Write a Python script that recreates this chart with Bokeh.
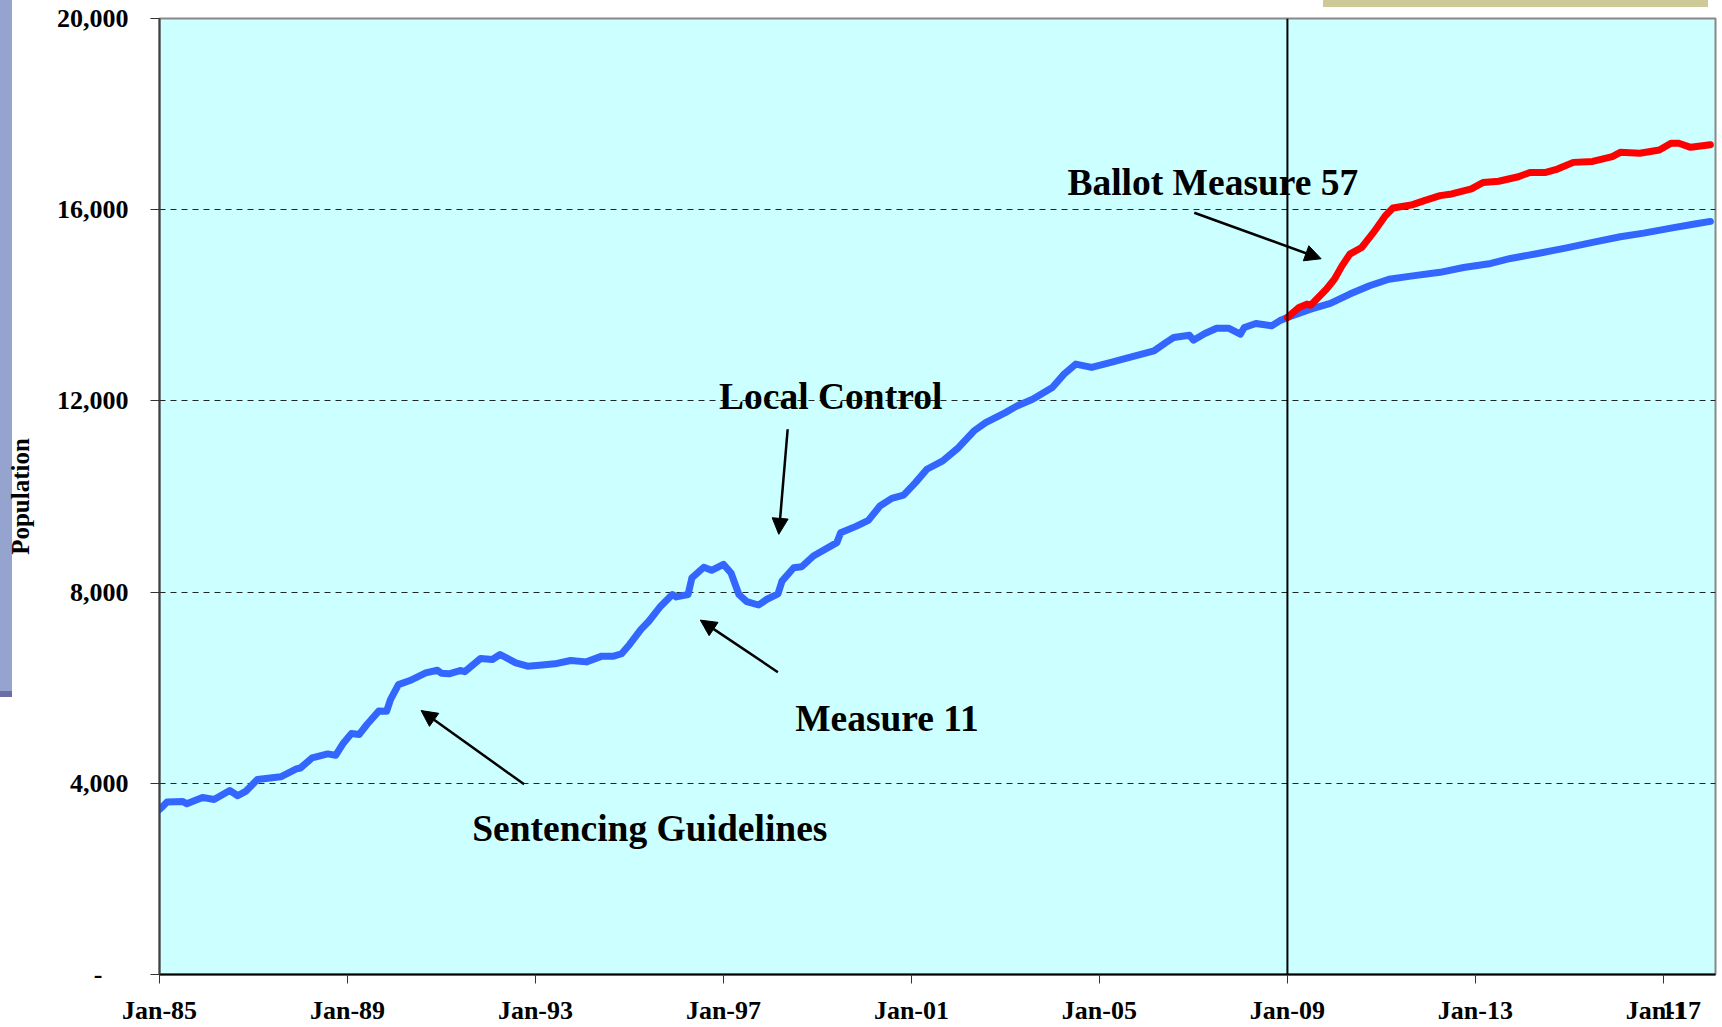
import pandas as pd
from bokeh.plotting import figure
from bokeh.models import (Range1d, FixedTicker, NumeralTickFormatter, DatetimeTickFormatter,
                          Span, Arrow, NormalHead, Label, ColumnDataSource, DatetimeAxis)
from bokeh.embed import file_html
from bokeh.resources import INLINE

# ---------------- data ----------------
base_months = [
    "1985-01", "1985-03", "1985-07", "1985-08", "1985-12", "1986-03", "1986-07", "1986-09",
    "1986-11", "1987-02", "1987-08", "1987-12", "1988-01", "1988-04", "1988-08", "1988-10",
    "1988-12", "1989-02", "1989-04", "1989-06", "1989-09", "1989-11", "1989-12", "1990-02",
    "1990-05", "1990-09", "1990-12", "1991-01", "1991-03", "1991-06", "1991-07", "1991-11",
    "1992-02", "1992-04", "1992-08", "1992-11", "1993-02", "1993-06", "1993-10", "1994-02",
    "1994-06", "1994-09", "1994-11", "1995-01", "1995-04", "1995-06", "1995-09", "1995-12",
    "1996-01", "1996-04", "1996-05", "1996-08", "1996-10", "1997-01", "1997-03", "1997-05",
    "1997-07", "1997-10", "1997-12", "1998-03", "1998-04", "1998-07", "1998-09", "1998-12",
    "1999-06", "1999-07", "1999-11", "2000-02", "2000-05", "2000-08", "2000-11", "2001-02",
    "2001-05", "2001-09", "2002-01", "2002-05", "2002-08", "2003-01", "2003-04", "2003-08",
    "2004-01", "2004-04", "2004-07", "2004-11", "2005-04", "2005-08", "2006-03", "2006-06",
    "2006-08", "2006-12", "2007-01", "2007-04", "2007-07", "2007-10", "2008-01", "2008-02",
    "2008-05", "2008-09", "2008-11", "2009-01", "2009-07", "2009-12", "2010-05", "2010-10",
    "2011-03", "2011-09", "2012-04", "2012-10", "2013-05", "2013-10", "2014-05", "2014-12",
    "2015-07", "2016-02", "2016-08", "2017-03", "2017-09", "2018-01",
]
base_population = [
    3450, 3610, 3620, 3570, 3705, 3660, 3850, 3740,
    3830, 4080, 4135, 4300, 4320, 4530, 4615, 4585,
    4845, 5040, 5020, 5230, 5510, 5505, 5750, 6065,
    6150, 6310, 6365, 6300, 6290, 6360, 6335, 6610,
    6590, 6695, 6520, 6450, 6470, 6500, 6570, 6540,
    6660, 6660, 6710, 6900, 7220, 7390, 7705, 7950,
    7900, 7950, 8300, 8520, 8455, 8580, 8400, 7950,
    7800, 7730, 7845, 7965, 8230, 8510, 8530, 8755,
    9035, 9240, 9380, 9500, 9800, 9960, 10030, 10290,
    10570, 10745, 11020, 11370, 11545, 11755, 11895, 12035,
    12280, 12560, 12770, 12700, 12805, 12895, 13045, 13220,
    13325, 13375, 13270, 13410, 13520, 13520, 13395, 13535,
    13620, 13570, 13675, 13745, 13920, 14040, 14235, 14410,
    14545, 14615, 14690, 14790, 14875, 14980, 15085, 15195,
    15315, 15435, 15510, 15615, 15700, 15755,
]

m57_months = [
    "2009-01", "2009-04", "2009-06", "2009-07", "2009-11", "2010-01", "2010-03", "2010-05",
    "2010-08", "2010-11", "2011-02", "2011-04", "2011-09", "2011-12", "2012-04", "2012-07",
    "2012-12", "2013-03", "2013-07", "2013-12", "2014-03", "2014-07", "2014-10", "2015-02",
    "2015-07", "2015-12", "2016-02", "2016-07", "2016-12", "2017-03", "2017-05", "2017-08",
    "2018-01",
]
m57_population = [
    13745, 13955, 14025, 14000, 14340, 14545, 14825, 15070,
    15210, 15525, 15875, 16035, 16105, 16190, 16295, 16330,
    16435, 16570, 16595, 16690, 16780, 16780, 16850, 16990,
    17010, 17110, 17200, 17180, 17250, 17390, 17390, 17305,
    17360,
]

y_ticks = [0, 4000, 8000, 12000, 16000, 20000]
x_tick_years = [1985, 1989, 1993, 1997, 2001, 2005, 2009, 2013, 2017]
page_number = "11"
page_number_date = "2017-03-26"

# annotation texts and arrows (date, value)
notes = [
    ("Ballot Measure 57", "2004-04-27", 16565),
    ("Local Control", "1996-11-28", 12082),
    ("Measure 11", "1998-07-12", 5360),
    ("Sentencing Guidelines", "1991-08-28", 3060),
]
arrows = [
    ("2007-01-08", 15937, "2009-09-20", 14974),
    ("1998-05-15", 11407, "1998-03-07", 9208),
    ("1998-02-28", 6325, "1996-07-05", 7414),
    ("1992-10-05", 3979, "1990-07-27", 5522),
]

# ---------------- chart ----------------
def ms(s):
    return int(pd.Timestamp(s).value // 10**6)

FONT = "Liberation Serif"

p = figure(width=1722, height=1027, x_axis_type="datetime", x_axis_location=None,
           x_range=Range1d(ms("1985-01-01"), ms("2018-02-10")),
           y_range=Range1d(0, 20000),
           output_backend="svg", toolbar_location=None,
           background_fill_color="#CCFFFF", border_fill_color=None,
           min_border_left=159, min_border_top=18, min_border_right=7, min_border_bottom=53)

# slide decorations behind the figure (left bar, top-right bar)
p.styles = {
    "background-color": "white",
    "background-image": ("linear-gradient(#95A3CF,#95A3CF), linear-gradient(#6B6FA3,#6B6FA3), "
                         "linear-gradient(#CDCA98,#CDCA98)"),
    "background-size": "12px 691px, 12px 6px, 385px 7px",
    "background-position": "0px 0px, 0px 691px, 1323px 0px",
    "background-repeat": "no-repeat",
}

p.outline_line_color = "#888888"
p.outline_line_width = 2

base_src = ColumnDataSource(dict(x=pd.to_datetime(base_months, format="%Y-%m"), y=base_population))
m57_src = ColumnDataSource(dict(x=pd.to_datetime(m57_months, format="%Y-%m"), y=m57_population))

p.line("x", "y", source=base_src, line_color="#3366FF", line_width=7, line_join="round", line_cap="round")
p.line("x", "y", source=m57_src, line_color="#FF0000", line_width=7, line_join="round", line_cap="round")

p.add_layout(Span(location=ms("2009-01-01"), dimension="height", line_color="black", line_width=2))

# y axis
p.yaxis.ticker = FixedTicker(ticks=y_ticks)
p.yaxis.formatter = NumeralTickFormatter(format="0,0")
p.yaxis.major_label_overrides = {0: "-\u00a0\u00a0\u00a0\u00a0"}
p.yaxis.axis_label = "Population"
p.yaxis.axis_label_text_font = FONT
p.yaxis.axis_label_text_font_style = "bold"
p.yaxis.axis_label_text_font_size = "25px"
p.yaxis.axis_label_text_color = "black"
p.yaxis.axis_label_standoff = 20
p.yaxis.major_label_standoff = 22
p.yaxis.axis_line_color = "#404040"
p.yaxis.axis_line_width = 2
p.yaxis.major_label_text_font = FONT
p.yaxis.major_label_text_font_style = "bold"
p.yaxis.major_label_text_font_size = "26px"
p.yaxis.major_label_text_color = "black"
p.yaxis.major_tick_in = 0
p.yaxis.major_tick_out = 9
p.yaxis.major_tick_line_color = "#333333"
p.yaxis.minor_tick_line_color = None

# x axis: tick marks and axis line
year_ticks = [ms(f"{y}-01-01") for y in x_tick_years]
xa_ticks = DatetimeAxis(ticker=FixedTicker(ticks=year_ticks),
                        major_label_overrides={t: "" for t in year_ticks},
                        major_label_text_font_size="1px", major_label_standoff=0,
                        major_tick_in=0, major_tick_out=9, major_tick_line_color="#333333",
                        minor_tick_line_color=None, axis_line_color="black", axis_line_width=2)
p.add_layout(xa_ticks, "below")

# x axis: labels (plus the slide's page number)
fmt = "%b-%y"
pn_tick = ms(page_number_date)
xa_labels = DatetimeAxis(ticker=FixedTicker(ticks=year_ticks + [pn_tick]),
                         formatter=DatetimeTickFormatter(years=fmt, months=fmt, days=fmt, hours=fmt,
                                                         hourmin=fmt, minutes=fmt, minsec=fmt,
                                                         seconds=fmt, milliseconds=fmt,
                                                         microseconds=fmt),
                         major_label_overrides={pn_tick: page_number},
                         major_label_text_font=FONT, major_label_text_font_style="bold",
                         major_label_text_font_size="26px", major_label_text_color="black",
                         major_label_standoff=12, major_tick_in=0, major_tick_out=0,
                         major_tick_line_color=None, minor_tick_line_color=None,
                         axis_line_color=None)
p.add_layout(xa_labels, "below")

p.xgrid.visible = False
for r in p.center:
    if r.__class__.__name__ == "Grid" and r.dimension == 0:
        r.visible = False

p.ygrid.ticker = FixedTicker(ticks=[4000, 8000, 12000, 16000])
p.ygrid.grid_line_color = "black"
p.ygrid.grid_line_alpha = 0.85
p.ygrid.grid_line_width = 1
p.ygrid.grid_line_dash = "6 5"

for txt, d, v in notes:
    p.add_layout(Label(x=ms(d), y=v, text=txt, text_font=FONT, text_font_style="bold",
                       text_font_size="37.5px", text_color="black",
                       text_align="left", text_baseline="alphabetic"))

for xs, ys, xe, ye in arrows:
    p.add_layout(Arrow(x_start=ms(xs), y_start=ys, x_end=ms(xe), y_end=ye,
                       line_color="black", line_width=2.5,
                       end=NormalHead(size=16, fill_color="black", line_color="black")))

open("out.html", "w").write(file_html(p, INLINE))
